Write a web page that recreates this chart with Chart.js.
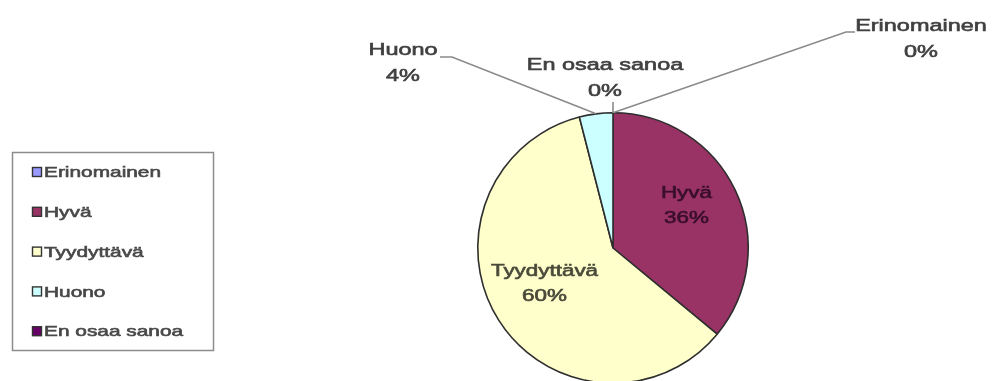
<!DOCTYPE html>
<html>
<head>
<meta charset="utf-8">
<script src="https://cdn.jsdelivr.net/npm/chart.js@4"></script>
<style>
  html, body { margin: 0; padding: 0; background: #fff; overflow: hidden; }
  #wrap { width: 994px; height: 390px; }
</style>
</head>
<body>
<div id="wrap"><canvas id="pie"></canvas></div>
<script>
// Vastausten jakauma
const categories = ["Erinomainen", "Hyvä", "Tyydyttävä", "Huono", "En osaa sanoa"];
const shares = [0, 36, 60, 4, 0];
const colors = ["#9999FF", "#993366", "#FFFFCC", "#CCFFFF", "#660066"];

// labels drawn outside the pie, with a leader line back to the slice
const callouts = {
  "Erinomainen": { x: 921, y: 26, elbow: [855, 32, 846, 32] },
  "Huono": { x: 403, y: 50, elbow: [440, 57, 452, 57] },
  "En osaa sanoa": { x: 605, y: 65, elbow: [613, 102, 613, 102] }
};

const FONT = '"Liberation Sans", Arial, sans-serif';

// text is a bit wide and heavy in this chart, so stretch it and add a thin outline
function wideText(ctx, text, x, y, size, sx, align) {
  ctx.save();
  ctx.font = size + "px " + FONT;
  ctx.translate(x, y);
  ctx.scale(sx, 1);
  ctx.textAlign = align || "center";
  ctx.textBaseline = "middle";
  ctx.strokeStyle = ctx.fillStyle;
  ctx.lineWidth = 0.6;
  ctx.fillText(text, 0, 0);
  ctx.strokeText(text, 0, 0);
  ctx.restore();
}

const pieLabels = {
  id: "pieLabels",
  afterDraw(chart) {
    const ctx = chart.ctx;
    const meta = chart.getDatasetMeta(0);
    const data = chart.data.datasets[0].data;

    meta.data.forEach((arc, i) => {
      const p = arc.getProps(["x", "y", "startAngle", "endAngle", "outerRadius"], true);
      const mid = (p.startAngle + p.endAngle) / 2;
      const name = chart.data.labels[i];
      const pct = data[i] + "%";
      const c = callouts[name];

      if (c) {
        // leader line from label to slice edge
        const ex = p.x + Math.cos(mid) * p.outerRadius;
        const ey = p.y + Math.sin(mid) * p.outerRadius;
        ctx.save();
        ctx.strokeStyle = "#8a8a8a";
        ctx.lineWidth = 1.6;
        ctx.beginPath();
        ctx.moveTo(c.elbow[0], c.elbow[1]);
        ctx.lineTo(c.elbow[2], c.elbow[3]);
        ctx.lineTo(ex, ey);
        ctx.stroke();
        ctx.restore();
        ctx.fillStyle = "#404040";
        wideText(ctx, name, c.x, c.y, 17, 1.38);
        wideText(ctx, pct, c.x, c.y + 26, 17, 1.38);
      } else {
        const r = p.outerRadius * 0.6;
        const lx = p.x + Math.cos(mid) * r;
        const ly = p.y + Math.sin(mid) * r - 8;
        ctx.fillStyle = i === 1 ? "#3a0f2c" : "#4a4a3a";
        wideText(ctx, name, lx, ly - 12, 16, 1.4);
        wideText(ctx, pct, lx, ly + 13, 16, 1.4);
      }
    });

    // legend box on the left
    ctx.save();
    ctx.strokeStyle = "#8c8c8c";
    ctx.lineWidth = 1.5;
    ctx.strokeRect(12.5, 152.5, 201, 198);
    chart.data.labels.forEach((name, i) => {
      const y = 172 + i * 39.8;
      ctx.fillStyle = colors[i];
      ctx.fillRect(32.5, y - 4.5, 9, 9);
      ctx.strokeStyle = "#333";
      ctx.lineWidth = 1.4;
      ctx.strokeRect(32.5, y - 4.5, 9, 9);
      ctx.fillStyle = "#484848";
      wideText(ctx, name, 44, y + 1, 15, 1.39, "left");
    });
    ctx.restore();
  }
};

new Chart(document.getElementById("pie"), {
  type: "pie",
  data: {
    labels: categories,
    datasets: [{
      data: shares,
      backgroundColor: colors,
      borderColor: "#2e2e2e",
      borderWidth: 1.6
    }]
  },
  options: {
    responsive: true,
    maintainAspectRatio: false,
    animation: false,
    layout: { padding: { top: 112, bottom: 6, left: 477, right: 245 } },
    plugins: { legend: { display: false }, tooltip: { enabled: false } }
  },
  plugins: [pieLabels]
});
</script>
</body>
</html>
